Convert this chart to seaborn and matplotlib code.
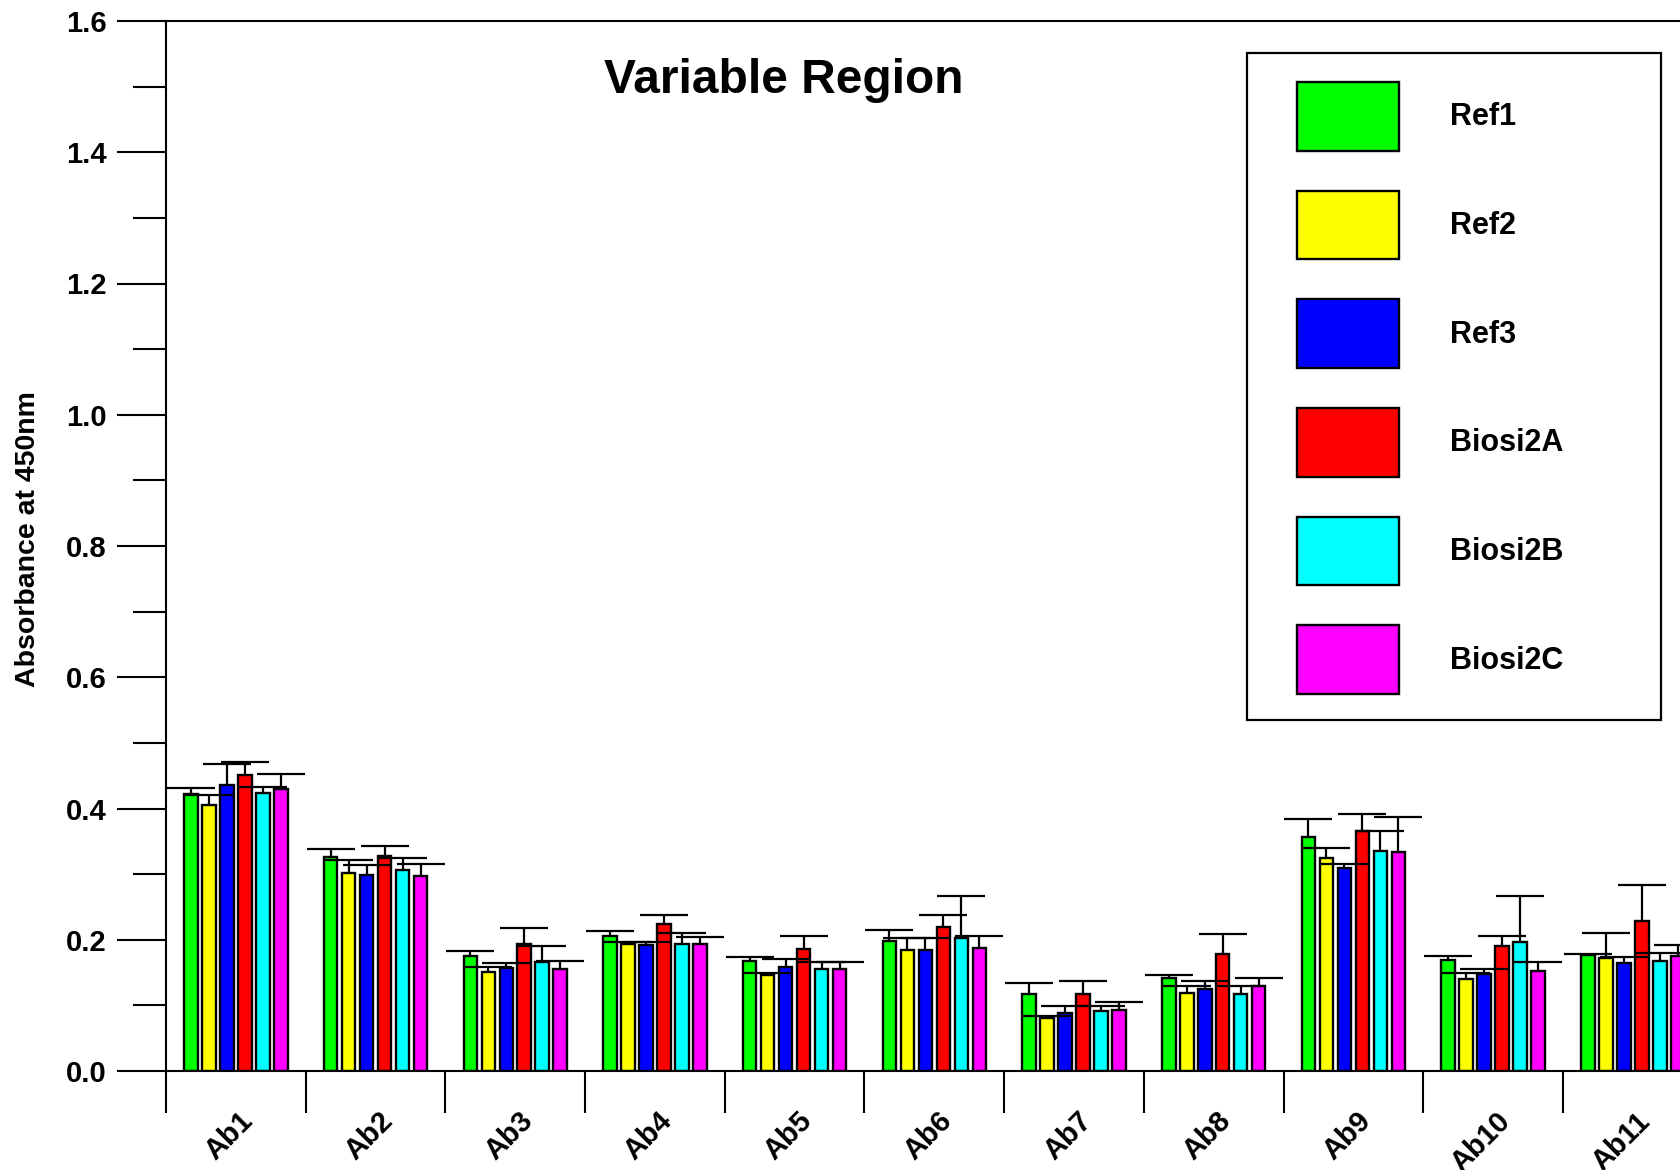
import numpy as np
import pandas as pd
import matplotlib
matplotlib.use("Agg")
import matplotlib.pyplot as plt
from matplotlib.patches import Rectangle
from matplotlib.transforms import ScaledTranslation
from matplotlib.ticker import MultipleLocator, FixedLocator
import seaborn as sns

# ---------------- data ----------------
categories = ["Ab1", "Ab2", "Ab3", "Ab4", "Ab5", "Ab6", "Ab7", "Ab8", "Ab9", "Ab10", "Ab11"]
series_names = ["Ref1", "Ref2", "Ref3", "Biosi2A", "Biosi2B", "Biosi2C"]
colors = ["#00FF00", "#FFFF00", "#0000FF", "#FF0000", "#00FFFF", "#FF00FF"]

ref1 = [0.422, 0.326, 0.175, 0.205, 0.168, 0.198, 0.118, 0.141, 0.357, 0.169, 0.177]
ref1_err = [0.010, 0.012, 0.008, 0.008, 0.006, 0.017, 0.016, 0.006, 0.027, 0.007, 0.001]
ref2 = [0.406, 0.301, 0.151, 0.193, 0.146, 0.184, 0.081, 0.119, 0.324, 0.140, 0.172]
ref2_err = [0.014, 0.020, 0.007, 0.004, 0.003, 0.018, 0.003, 0.011, 0.016, 0.009, 0.039]
ref3 = [0.436, 0.298, 0.157, 0.192, 0.158, 0.184, 0.089, 0.125, 0.309, 0.148, 0.164]
ref3_err = [0.032, 0.016, 0.008, 0.004, 0.012, 0.018, 0.010, 0.012, 0.007, 0.008, 0.010]
biosi2a = [0.451, 0.328, 0.194, 0.224, 0.186, 0.220, 0.117, 0.179, 0.366, 0.191, 0.229]
biosi2a_err = [0.020, 0.015, 0.024, 0.014, 0.020, 0.017, 0.020, 0.030, 0.025, 0.014, 0.055]
biosi2b = [0.424, 0.306, 0.166, 0.194, 0.156, 0.203, 0.092, 0.117, 0.335, 0.196, 0.167]
biosi2b_err = [0.009, 0.018, 0.025, 0.016, 0.010, 0.064, 0.007, 0.013, 0.030, 0.070, 0.013]
biosi2c = [0.430, 0.297, 0.155, 0.193, 0.156, 0.188, 0.093, 0.130, 0.334, 0.153, 0.175]
biosi2c_err = [0.023, 0.019, 0.013, 0.011, 0.010, 0.018, 0.012, 0.012, 0.053, 0.013, 0.017]

y_ticks = [0.0, 0.2, 0.4, 0.6, 0.8, 1.0, 1.2, 1.4, 1.6]
y_tick_labels = ["0.0", "0.2", "0.4", "0.6", "0.8", "1.0", "1.2", "1.4", "1.6"]

values = [ref1, ref2, ref3, biosi2a, biosi2b, biosi2c]
errors = [ref1_err, ref2_err, ref3_err, biosi2a_err, biosi2b_err, biosi2c_err]

rows = []
for name, vals in zip(series_names, values):
    for cat, v in zip(categories, vals):
        rows.append({"antibody": cat, "sample": name, "absorbance": v})
df = pd.DataFrame(rows)

# ---------------- style ----------------
sns.set_theme(style="ticks")
plt.rcParams["font.family"] = ["Liberation Sans", "DejaVu Sans"]
plt.rcParams["font.weight"] = "bold"
plt.rcParams["axes.labelweight"] = "bold"
for key in ["text.color", "axes.labelcolor", "xtick.color", "ytick.color", "axes.edgecolor"]:
    plt.rcParams[key] = "black"

W, H = 1681, 1170
fig = plt.figure(figsize=(W / 100, H / 100), dpi=100)
ax_left, ax_right = 166, 166 + 11 * 139.7
ax_top, ax_bottom = 21, 1071
ax = fig.add_axes([ax_left / W, 1 - ax_bottom / H, (ax_right - ax_left) / W, (ax_bottom - ax_top) / H])

sns.barplot(data=df, x="antibody", y="absorbance", hue="sample",
            order=categories, hue_order=series_names, palette=colors,
            saturation=1, width=0.773, gap=0.25, edgecolor="black", linewidth=1.7,
            errorbar=None, legend=False, ax=ax, zorder=2)

bar_containers = list(ax.containers)

# error bars (upper only) drawn on top of all bars
for cont, err in zip(bar_containers, errors):
    xs = [p.get_x() + p.get_width() / 2 for p in cont.patches]
    ys = [p.get_height() for p in cont.patches]
    eb = ax.errorbar(xs, ys, yerr=[np.zeros(len(err)), err], fmt="none",
                     ecolor="black", elinewidth=1.6, capsize=17.6, capthick=1.6,
                     zorder=5, clip_on=False)
    caps = eb.lines[1]
    if len(caps) >= 2:
        caps[0].set_visible(False)   # hide the lower cap

ax.set_xlim(-0.5, len(categories) - 0.5)
ax.set_ylim(0, 1.6)
ax.set_xlabel("")
ax.set_ylabel("")

for s in ["left", "top", "bottom", "right"]:
    ax.spines[s].set_visible(True)
    ax.spines[s].set_linewidth(1.5)
    ax.spines[s].set_color("black")

ax.set_yticks(y_ticks)
ax.set_yticklabels(y_tick_labels)
ax.yaxis.set_minor_locator(MultipleLocator(0.1))
ax.tick_params(axis="y", which="major", length=35, width=1.5, pad=8,
               labelsize=21, colors="black", direction="out")
ax.tick_params(axis="y", which="minor", length=24, width=1.5, direction="out", colors="black")

ax.set_xticks(range(len(categories)))
ax.set_xticklabels(categories, rotation=45, ha="right", va="center",
                   rotation_mode="anchor", fontsize=21, fontweight="bold")
ax.xaxis.set_minor_locator(FixedLocator(np.arange(-0.5, len(categories) + 0.5, 1.0)))
ax.tick_params(axis="x", which="major", length=0, pad=33, colors="black")
ax.tick_params(axis="x", which="minor", length=30, width=1.5, direction="out", colors="black")
for lab in ax.get_xticklabels():
    lab.set_transform(lab.get_transform() + ScaledTranslation(13 / 100, 0, fig.dpi_scale_trans))
ax.grid(False)

# title and y label
fig.text(784 / W, 1 - 93 / H, "Variable Region", ha="center", va="baseline",
         fontsize=34.5, fontweight="bold", color="black")
fig.text(28 / W, 1 - 539 / H, "Absorbance at 450nm", rotation=90, ha="center",
         va="center", fontsize=20.5, fontweight="bold", color="black")

# legend
handles = [c.patches[0] for c in bar_containers]
leg = ax.legend(handles, series_names, loc="upper left",
                bbox_to_anchor=(1297 / W, 1 - 82 / H), bbox_transform=fig.transFigure,
                frameon=False, borderpad=0, borderaxespad=0,
                prop={"size": 22, "weight": "bold"},
                handlelength=3.34, handleheight=3.08, labelspacing=1.31,
                handletextpad=1.67)
for t in leg.get_texts():
    t.set_color("black")
fig.add_artist(Rectangle((1247 / W, 1 - 720 / H), 414 / W, 667 / H,
                         transform=fig.transFigure, fill=False,
                         edgecolor="black", linewidth=1.6))

fig.savefig("out.png", dpi=100)
